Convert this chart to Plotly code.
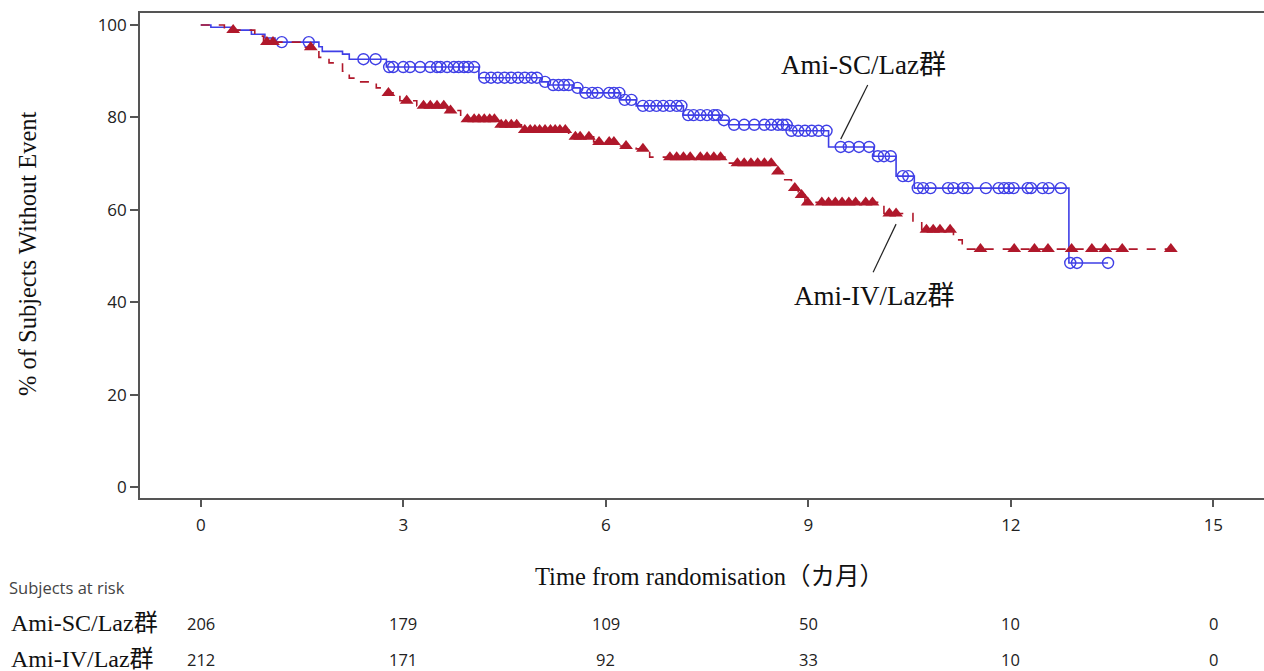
import numpy as np
import plotly.graph_objects as go

# Kaplan-Meier estimates (% of subjects without event) by arm
sc_step_t = [0, 0.15, 0.45, 0.75, 0.95, 1.1, 1.75, 1.8, 2.1, 2.2, 2.75, 4.12, 5.05, 5.15,
             5.52, 5.62, 6.22, 6.45, 7.15, 7.7, 7.82, 8.72, 9.3, 9.97, 10.3, 10.57, 12.86]
sc_step_s = [100, 99.5, 98.9, 98.0, 97.2, 96.3, 95.3, 94.3, 93.7, 92.6, 90.9, 88.6, 87.7, 87.0,
             86.4, 85.3, 83.8, 82.5, 80.5, 79.4, 78.4, 77.1, 73.6, 71.6, 67.3, 64.7, 48.5]
sc_end = 13.44
sc_censor = [1.2, 1.6, 2.41, 2.59, 2.79, 2.85, 3.0, 3.1, 3.25, 3.4, 3.5, 3.55, 3.65, 3.75,
             3.82, 3.9, 3.96, 4.05, 4.2, 4.3, 4.4, 4.5, 4.6, 4.7, 4.8, 4.9, 4.98, 5.1,
             5.22, 5.3, 5.38, 5.45, 5.58, 5.7, 5.8, 5.88, 6.05, 6.12, 6.2, 6.28, 6.38,
             6.55, 6.65, 6.75, 6.85, 6.95, 7.05, 7.12, 7.22, 7.3, 7.4, 7.5, 7.6, 7.65,
             7.75, 7.9, 8.05, 8.2, 8.35, 8.45, 8.55, 8.62, 8.68, 8.75, 8.85, 8.95, 9.05,
             9.15, 9.27, 9.48, 9.6, 9.75, 9.9, 10.03, 10.12, 10.22, 10.4, 10.48, 10.62,
             10.7, 10.81, 11.07, 11.15, 11.29, 11.36, 11.63, 11.82, 11.9, 11.97, 12.04,
             12.25, 12.3, 12.47, 12.56, 12.74, 12.88, 12.98, 13.44]

iv_step_t = [0, 0.35, 0.8, 0.93, 1.5, 1.75, 1.9, 2.1, 2.2, 2.35, 2.6, 2.72, 2.95, 3.2, 3.65,
             3.85, 4.4, 4.75, 5.45, 5.82, 6.2, 6.45, 6.65, 7.8, 8.5, 8.65, 8.75, 8.85, 8.95,
             10.12, 10.55, 10.68, 11.15, 11.28]
iv_step_s = [100, 98.9, 97.6, 96.3, 95.2, 93.0, 91.8, 90.0, 88.5, 87.7, 86.4, 85.3, 83.6, 82.5,
             81.5, 79.6, 78.4, 77.3, 75.8, 74.7, 73.8, 73.2, 71.4, 70.1, 68.3, 66.5, 64.7,
             63.2, 61.6, 59.2, 57.4, 55.7, 53.5, 51.5]
iv_end = 14.37
iv_censor = [0.48, 0.98, 1.07, 1.63, 2.78, 3.05, 3.3, 3.4, 3.5, 3.6, 3.7, 3.95, 4.05, 4.12,
             4.2, 4.28, 4.35, 4.45, 4.52, 4.6, 4.68, 4.8, 4.88, 4.95, 5.02, 5.1, 5.18, 5.25,
             5.32, 5.4, 5.55, 5.62, 5.75, 5.9, 6.05, 6.12, 6.3, 6.55, 6.95, 7.05, 7.15,
             7.25, 7.4, 7.5, 7.6, 7.7, 7.95, 8.05, 8.15, 8.25, 8.35, 8.45, 8.55, 8.8, 8.9,
             8.99, 9.2, 9.3, 9.4, 9.5, 9.6, 9.7, 9.85, 9.95, 10.2, 10.3, 10.75, 10.85,
             10.95, 11.1, 11.55, 12.05, 12.35, 12.55, 12.9, 13.2, 13.4, 13.65, 14.37]

arm_names = ["Ami-SC/Laz群", "Ami-IV/Laz群"]
risk_times = [0, 3, 6, 9, 12, 15]
sc_at_risk = [206, 179, 109, 50, 10, 0]
iv_at_risk = [212, 171, 92, 33, 10, 0]

BLUE = "#3f3fe6"
RED = "#b0182b"
SERIF = "Liberation Serif, Noto Sans CJK JP, serif"
SANS = "Open Sans, Noto Sans, sans-serif"

# plot area geometry in pixels (used for paper-referenced text)
PL, PW, PB, PH = 140, 1124, 498, 485


def px_x(px):
    return (px - PL) / PW


def px_y(py):
    return (PB - py) / PH


def km_level(step_t, step_s, t):
    idx = np.searchsorted(np.asarray(step_t), np.asarray(t), side="right") - 1
    return np.asarray(step_s)[idx]


fig = go.Figure()

for step_t, step_s, end, color, dash in [
    (sc_step_t, sc_step_s, sc_end, BLUE, "solid"),
    (iv_step_t, iv_step_s, iv_end, RED, "dash"),
]:
    fig.add_trace(go.Scatter(
        x=list(step_t) + [end], y=list(step_s) + [step_s[-1]],
        mode="lines", line=dict(color=color, width=1.6, dash=dash, shape="hv"),
        hoverinfo="skip", showlegend=False,
    ))

fig.add_trace(go.Scatter(
    x=sc_censor, y=km_level(sc_step_t, sc_step_s, sc_censor), mode="markers",
    marker=dict(symbol="circle-open", size=11, color=BLUE, line=dict(width=1.4)),
    showlegend=False, name=arm_names[0],
))
fig.add_trace(go.Scatter(
    x=iv_censor, y=km_level(iv_step_t, iv_step_s, iv_censor), mode="markers",
    marker=dict(symbol="triangle-up", size=12, color=RED, line=dict(width=0)),
    showlegend=False, name=arm_names[1],
))

# Curve labels with leader lines
fig.add_annotation(x=9.82, y=91.3, xref="x", yref="y", text=arm_names[0], showarrow=False,
                   font=dict(family=SERIF, size=27, color="#111"))
fig.add_shape(type="line", xref="x", yref="y", x0=9.88, y0=87.0, x1=9.48, y1=75.3,
              line=dict(color="#222", width=1.2))
fig.add_annotation(x=9.97, y=41.3, xref="x", yref="y", text=arm_names[1], showarrow=False,
                   font=dict(family=SERIF, size=27, color="#111"))
fig.add_shape(type="line", xref="x", yref="y", x0=10.3, y0=56.9, x1=9.96, y1=46.5,
              line=dict(color="#222", width=1.2))

# Axis titles
fig.add_annotation(x=px_x(27), y=px_y(254), xref="paper", yref="paper",
                   text="% of Subjects Without Event", textangle=-90, showarrow=False,
                   xanchor="center", yanchor="middle",
                   font=dict(family=SERIF, size=24.5, color="#111"))
fig.add_annotation(x=px_x(709), y=px_y(576), xref="paper", yref="paper",
                   text="Time from randomisation（カ月）", showarrow=False,
                   xanchor="center", yanchor="middle",
                   font=dict(family=SERIF, size=24.5, color="#111"))

# Number at risk table
fig.add_annotation(x=px_x(7), y=px_y(587), xref="paper", yref="paper",
                   text="Subjects at risk", showarrow=False, xanchor="left", yanchor="middle",
                   font=dict(family=SANS, size=16.5, color="#444"))
for row_y, name, counts in [(623, arm_names[0], sc_at_risk), (659, arm_names[1], iv_at_risk)]:
    fig.add_annotation(x=px_x(9), y=px_y(row_y), xref="paper", yref="paper", text=name,
                       showarrow=False, xanchor="left", yanchor="middle",
                       font=dict(family=SERIF, size=24, color="#111"))
    for t, n in zip(risk_times, counts):
        fig.add_annotation(x=t, y=px_y(row_y), xref="x", yref="paper", text=str(n),
                           showarrow=False, xanchor="center", yanchor="middle",
                           font=dict(family=SANS, size=16.5, color="#222"))

fig.update_xaxes(
    range=[-0.9, 15.75], tickvals=[0, 3, 6, 9, 12, 15], ticks="outside", ticklen=7,
    tickwidth=1.5, tickcolor="#555", showline=True, linecolor="#555", linewidth=1.6,
    mirror=True, showgrid=False, zeroline=False, ticklabelstandoff=4,
    tickfont=dict(family=SANS, size=17, color="#222"),
)
fig.update_yaxes(
    range=[-2.38, 102.6], tickvals=[0, 20, 40, 60, 80, 100], ticks="outside", ticklen=8,
    tickwidth=1.5, tickcolor="#555", showline=True, linecolor="#555", linewidth=1.6,
    showgrid=False, zeroline=False,
    tickfont=dict(family=SANS, size=17, color="#222"),
)
fig.update_layout(
    width=1264, height=671, margin=dict(l=PL, r=0, t=13, b=173),
    plot_bgcolor="white", paper_bgcolor="white", showlegend=False,
)

fig.write_html("out.html")
